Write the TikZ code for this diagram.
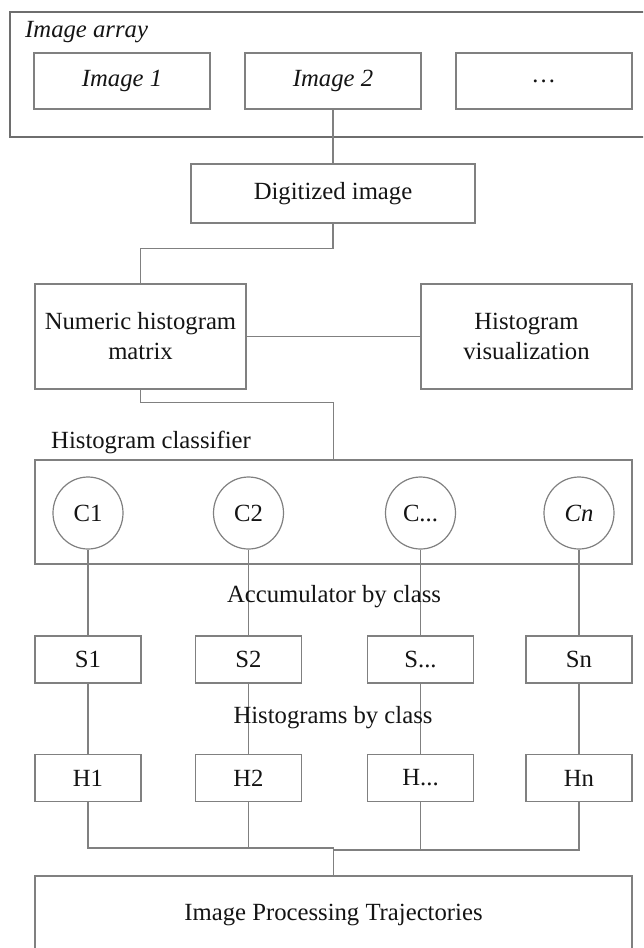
\documentclass[tikz,border=0pt]{standalone}
\usepackage{fontspec}
\setmainfont{Liberation Serif}
\usetikzlibrary{shapes.geometric}
\definecolor{linegray}{RGB}{128,128,128}
\definecolor{framegray}{RGB}{110,110,110}
\definecolor{inkgray}{RGB}{20,20,20}
\begin{document}
\begin{tikzpicture}[x=1pt,y=-1pt,
  every node/.style={font=\fontsize{24.7}{30}\selectfont, text=inkgray},
  wire/.style={draw=linegray, line width=1.2pt},
  box/.style={draw=linegray, line width=1.2pt, rectangle, inner sep=0pt, align=center},
  imgbox/.style={box, minimum width=176pt, minimum height=56pt, font=\fontsize{24.7}{30}\selectfont\itshape},
  bigbox/.style={box, minimum width=211pt, minimum height=105pt},
  classnode/.style={draw=linegray, line width=1.2pt, ellipse, inner sep=0pt, minimum width=70pt, minimum height=72pt},
  smallbox/.style={box, minimum width=106pt, minimum height=47pt},
  caption/.style={inner sep=0pt}
]
\clip (0,0) rectangle (643,948);

% image array container
\node[box, draw=framegray, minimum width=650pt, minimum height=125pt] (array) at (335,74.5) {};
\node[caption, anchor=west, font=\fontsize{24.7}{30}\selectfont\itshape] (arraylbl) at (25,32) {Image array};
\node[imgbox] (img1) at (122,81) {Image 1};
\node[imgbox] (img2) at (333,81) {Image 2};
\node[imgbox] (imgn) at (544,81) {…};

% digitized image and histograms
\node[box, minimum width=284pt, minimum height=59pt] (dig) at (333,193.5) {Digitized image};
\node[bigbox] (num) at (140.5,336.5) {Numeric histogram\\matrix};
\node[bigbox] (vis) at (526.5,336.5) {Histogram\\visualization};

% classifier
\node[caption, anchor=west] (clslbl) at (51,442) {Histogram classifier};
\node[box, minimum width=597pt, minimum height=104pt] (cls) at (333.5,512) {};
\node[classnode] (c1) at (88,513) {C1};
\node[classnode] (c2) at (248.5,513) {C2};
\node[classnode] (c3) at (420.5,513) {C...};
\node[classnode] (c4) at (579,513) {\textit{Cn}};

% accumulators
\node[smallbox] (s1) at (88,659.5) {S1};
\node[smallbox] (s2) at (248.5,659.5) {S2};
\node[smallbox] (s3) at (420.5,659.5) {S...};
\node[smallbox] (s4) at (579,659.5) {Sn};

% histograms by class
\node[smallbox] (h1) at (88,778) {H1};
\node[smallbox] (h2) at (248.5,778) {H2};
\node[smallbox] (h3) at (420.5,778) {H...};
\node[smallbox] (h4) at (579,778) {Hn};

% trajectories
\node[box, minimum width=597pt, minimum height=78pt] (traj) at (333.5,915) {Image Processing Trajectories};

% connectors
\draw[wire] (img2.south) -- (dig.north);
\draw[wire] (dig.south) -- ++(0,25) -| (num.north);
\draw[wire] (num.east) -- (vis.west);
\draw[wire] (num.south) -- ++(0,13) -| (cls.north);
\foreach \i in {1,2,3,4} {
  \draw[wire] (c\i.south) -- (s\i.north);
  \draw[wire] (s\i.south) -- (h\i.north);
}
\coordinate (joinL) at (333.5,848);
\coordinate (joinR) at (333.5,850);
\draw[wire] (h1.south) |- (joinL);
\draw[wire] (h2.south) |- (joinL);
\draw[wire] (h4.south) |- (joinR);
\draw[wire] (h3.south) |- (joinR);
\draw[wire] (joinL) -- (traj.north);

% captions drawn over the wires
\node[caption] (acclbl) at (334,597) {Accumulator by class};
\node[caption] (histlbl) at (333,718) {Histograms by class};
\end{tikzpicture}
\end{document}
